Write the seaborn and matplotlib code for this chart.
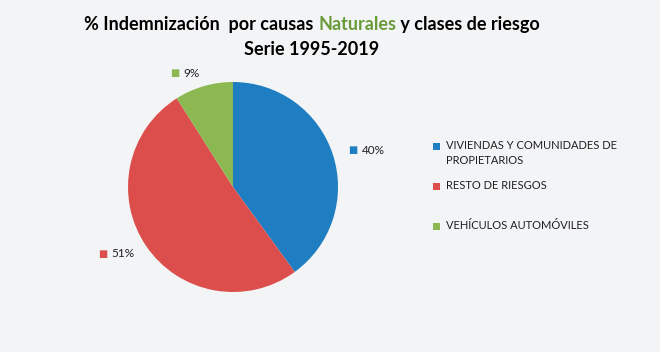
import matplotlib
matplotlib.use("Agg")
import matplotlib.pyplot as plt
import seaborn as sns
import numpy as np
from matplotlib.patches import Rectangle

categories = ["VIVIENDAS Y COMUNIDADES DE\nPROPIETARIOS", "RESTO DE RIESGOS", "VEHÍCULOS AUTOMÓVILES"]
values = [40, 51, 9]
pct_labels = ["40%", "51%", "9%"]
colors = ["#1F7EC1", "#DC4E4B", "#8CB851"]
title_parts = ["% Indemnización  por causas ", "Naturales", " y clases de riesgo"]
title_colors = ["#000000", "#6A9A3A", "#000000"]
subtitle = "Serie 1995-2019"

sns.set_theme(style="white")
plt.rcParams["font.family"] = ["Lato", "DejaVu Sans"]
BG = "#F3F4F6"

fig = plt.figure(figsize=(6.6, 3.52), dpi=100, facecolor=BG)
W, H = 660, 352

# pie axes: center (233,187) px, radius 105 px
cx, cy, r = 233, 187, 105
ax = fig.add_axes([(cx - r) / W, (H - cy - r) / H, 2 * r / W, 2 * r / H])
ax.set_facecolor(BG)
wedges, _ = ax.pie(values, colors=colors, startangle=90, counterclock=False,
                   wedgeprops=dict(linewidth=0), radius=1.0)
ax.set_xlim(-1, 1)
ax.set_ylim(-1, 1)
ax.set_aspect("equal")

# data labels (square + percentage), placed outside wedges
fs_lab = 8.5
for w, lab, col in zip(wedges, pct_labels, colors):
    ang = np.deg2rad((w.theta1 + w.theta2) / 2)
    x, y = 1.13 * np.cos(ang), 1.13 * np.sin(ang)
    if np.cos(ang) > 0.5:
        ha = "left"
        x += 0.15
    elif np.cos(ang) < -0.2:
        ha = "right"
    else:
        ha = "center"
    t = ax.text(x, y, lab, ha=ha, va="center", fontsize=fs_lab, color="#202020")
    ax.annotate("■", xy=(0, 0.5), xycoords=t, xytext=(-3, 0), textcoords="offset points",
                ha="right", va="center", fontsize=7, color=col, family="DejaVu Sans")

# legend (manual)
leg_x = 436 / W
leg_rows = [146, 186, 226]
for cat, col, yy in zip(categories, colors, leg_rows):
    fig.add_artist(Rectangle((leg_x - 3.5 / W, 1 - (yy + 3.5) / H), 7 / W, 7 / H,
                             transform=fig.transFigure, color=col, lw=0))
    fig.text(leg_x + 10 / W, 1 - (yy - 6) / H, cat, ha="left", va="top", fontsize=8,
             color="#202020", linespacing=1.45)

# title, line 1 with colored word
fs_title = 13
texts = []
for part, col in zip(title_parts, title_colors):
    texts.append(fig.text(0, 1 - 30 / H, part, fontsize=fs_title, fontweight="bold",
                          color=col, ha="left", va="baseline"))
fig.canvas.draw()
ren = fig.canvas.get_renderer()
widths = [t.get_window_extent(ren).width for t in texts]
total = sum(widths)
x0 = 312 - total / 2
for t, wd in zip(texts, widths):
    t.set_x(x0 / W)
    x0 += wd
fig.text(312 / W, 1 - 55 / H, subtitle, fontsize=fs_title, fontweight="bold",
         color="#000000", ha="center", va="baseline")

fig.savefig("out.png", dpi=100, facecolor=BG)
